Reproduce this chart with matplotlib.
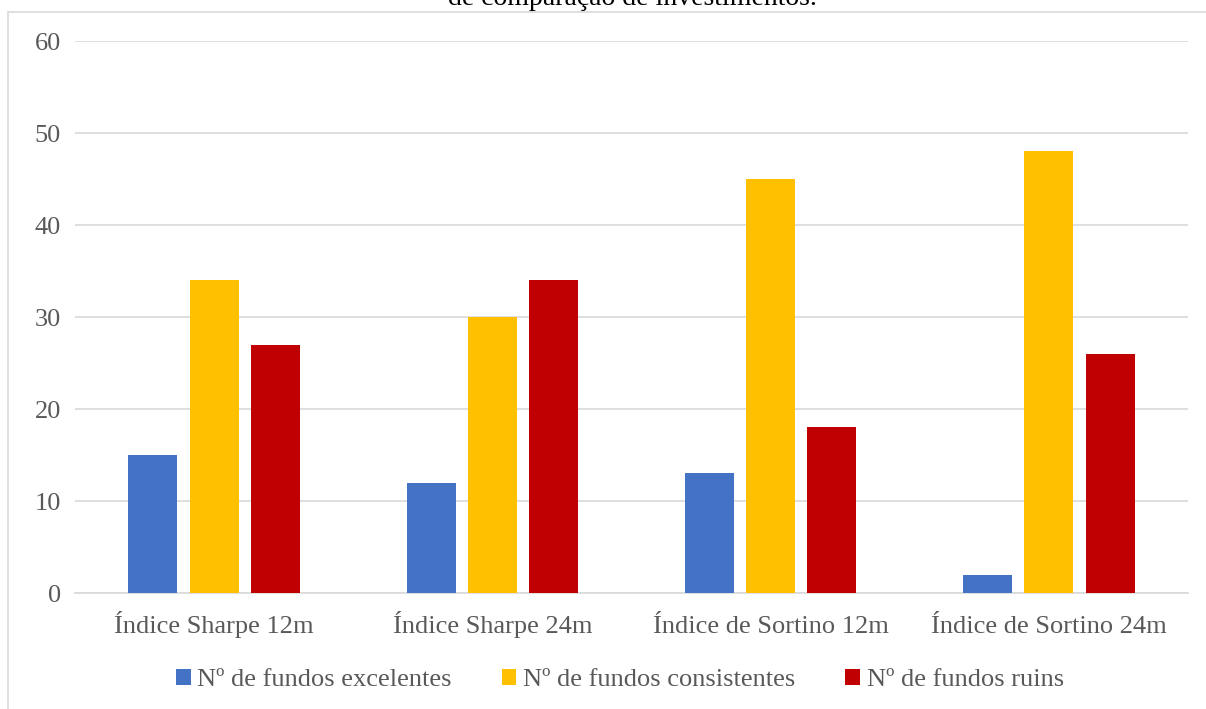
import matplotlib.pyplot as plt
import numpy as np
from matplotlib.patches import Rectangle

plt.rcParams['font.family'] = ['Liberation Serif', 'DejaVu Serif']

categorias = ['Índice Sharpe 12m', 'Índice Sharpe 24m', 'Índice de Sortino 12m', 'Índice de Sortino 24m']
excelentes = [15, 12, 13, 2]
consistentes = [34, 30, 45, 48]
ruins = [27, 34, 18, 26]
series = ['Nº de fundos excelentes', 'Nº de fundos consistentes', 'Nº de fundos ruins']
cores = ['#4472C4', '#FFC000', '#C00000']

fig = plt.figure(figsize=(12.06, 7.09), dpi=100)
ax = fig.add_axes([75 / 1206, 1 - 593 / 709, (1188 - 75) / 1206, (593 - 41) / 709])

# moldura do gráfico
fig.patches.append(Rectangle((8 / 1206, -0.05), 1.1, 1 - 12 / 709 + 0.05,
                             transform=fig.transFigure, fill=False,
                             edgecolor='#D9D9D9', linewidth=1.2))

fig.text(0.524, 1 - 5 / 709, 'de comparação de investimentos.', ha='center',
         va='baseline', fontsize=20)

x = np.arange(len(categorias))
larg = 0.176
passo = 0.22
for i, (vals, nome, cor) in enumerate(zip([excelentes, consistentes, ruins], series, cores)):
    ax.bar(x + (i - 1) * passo, vals, larg, color=cor, label=nome, zorder=3)

ax.set_xlim(-0.5, len(categorias) - 0.5)
ax.set_ylim(0, 60)
ax.set_yticks(range(0, 61, 10))
ax.set_xticks(x)
ax.set_xticklabels(categorias, va='baseline')
ax.yaxis.grid(True, color='#D9D9D9', linewidth=1.2, zorder=0)
for s in ['top', 'right', 'left']:
    ax.spines[s].set_visible(False)
ax.spines['bottom'].set_color('#D9D9D9')
ax.spines['bottom'].set_linewidth(1.2)
ax.tick_params(axis='both', length=0, labelsize=19, colors='#595959')
ax.tick_params(axis='y', pad=10)
ax.tick_params(axis='x', pad=28.5)

fig.legend(loc='center', bbox_to_anchor=(0.514, 1 - 680 / 709), ncol=3, frameon=False,
           fontsize=19, labelcolor='#595959', handlelength=0.55, handleheight=0.55,
           handletextpad=0.25, columnspacing=1.9)

fig.savefig('out.png', dpi=100)
